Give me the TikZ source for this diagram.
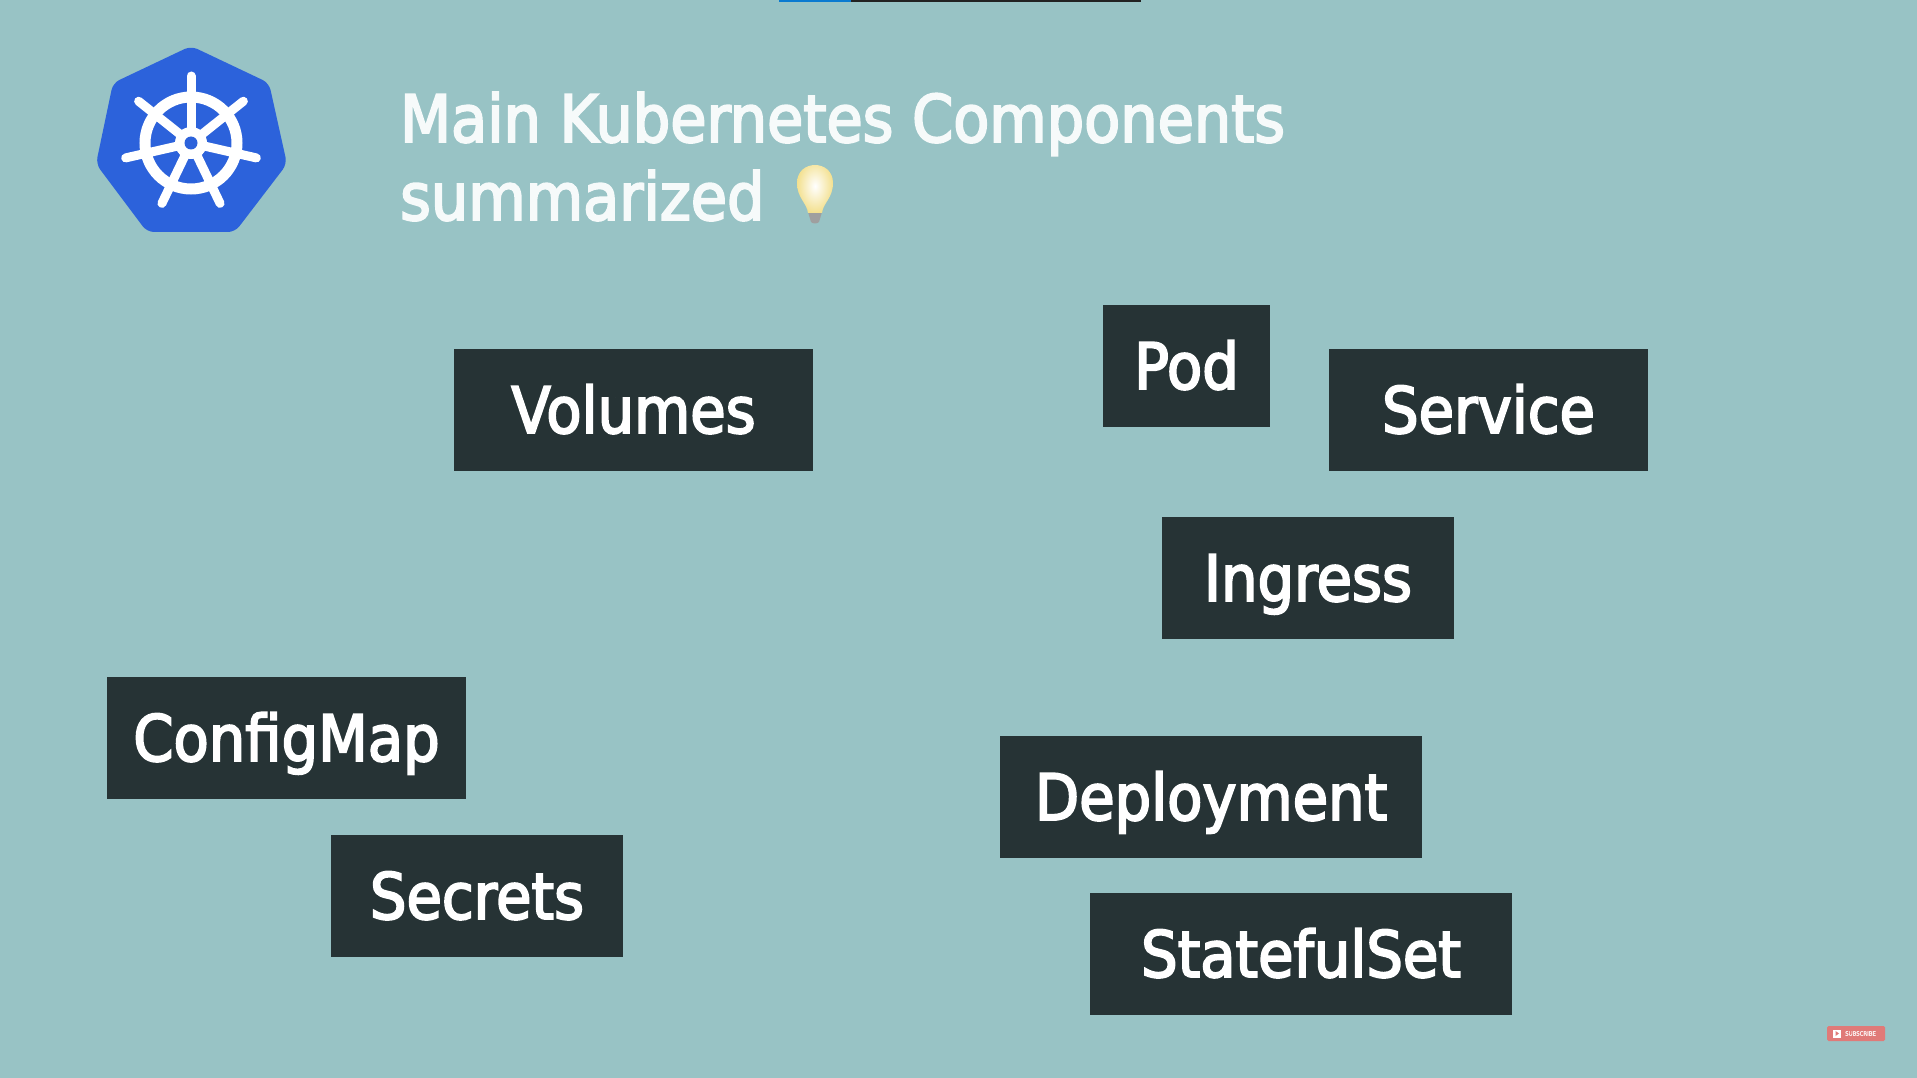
\documentclass[tikz,border=0pt]{standalone}
\usepackage{fontspec}
\setmainfont{DejaVu Sans}[FakeStretch=0.9, FakeBold=3]
\definecolor{bgteal}{HTML}{98C3C5}
\definecolor{boxdark}{HTML}{263335}
\definecolor{kubeblue}{HTML}{2C62DB}
\definecolor{barblue}{HTML}{0A7AD0}
\definecolor{bardark}{HTML}{222222}
\definecolor{subred}{HTML}{E07A78}
\definecolor{titlewhite}{HTML}{F6FAFA}
\definecolor{bulbedge}{HTML}{F3E08E}
\tikzset{
  compbox/.style={fill=boxdark, text=white, inner sep=0pt, text height=84pt, text depth=38pt,
    font=\fontsize{64}{64}\selectfont},
  titleline/.style={anchor=base west, inner sep=0pt, text=titlewhite,
    font=\fontsize{65.5}{66}\selectfont},
  spoke/.style={white, line cap=round}}

\begin{document}
\begin{tikzpicture}[x=1pt, y=-1pt]
\useasboundingbox (0,0) rectangle (1917,1078);
\fill [bgteal] (0,0) rectangle (1917,1078);
% progress bar
\fill [bardark] (779,0) rectangle (1141,2);
\fill [barblue] (779,0) rectangle (851,2);
% logo
\fill [kubeblue, rounded corners=7pt] (191,46) -- (269,83) -- (287,164) -- (235,232)
  -- (147,232) -- (96,164) -- (113,83) -- cycle;
\coordinate (hub) at (191,143);
\draw [white, line width=11pt] (hub) circle (46);
\foreach \a in {0,...,6} {
  \draw [spoke, line width=9pt] (hub) -- ++({270+\a*360/7}:50);
  \draw [spoke, line width=9pt] ([shift={({270+\a*360/7}:50)}]hub) -- ([shift={({270+\a*360/7}:67)}]hub);
}
\fill [white] (hub) circle (16);
\fill [kubeblue] (hub) circle (6.5);
% title
\node [titleline] (title1) at (400,142) {Main Kubernetes Components};
\node [titleline] (title2) at (400,220) {summarized};
% bulb
\fill [gray!75] (808,212) -- (822,212) -- (819,222) .. controls (817,224) and (813,224) .. (811,222) -- cycle;
\shade [inner color=white, outer color=bulbedge]
  (808,213) .. controls (807,203) and (797,198) .. (797,183)
  .. controls (797,159) and (833,159) .. (833,183)
  .. controls (833,198) and (823,203) .. (822,213) -- cycle;
% components
\node [compbox, minimum width=359pt] (volumes) at (633.5,410) {Volumes};
\node [compbox, minimum width=167pt] (pod) at (1186.5,366) {Pod};
\node [compbox, minimum width=319pt] (service) at (1488.5,410) {Service};
\node [compbox, minimum width=292pt] (ingress) at (1308,578) {Ingress};
\node [compbox, minimum width=359pt] (configmap) at (286.5,738) {ConfigMap};
\node [compbox, minimum width=292pt] (secrets) at (477,896) {Secrets};
\node [compbox, minimum width=422pt] (deployment) at (1211,797) {Deployment};
\node [compbox, minimum width=422pt] (statefulset) at (1301,954) {StatefulSet};
% subscribe badge
\fill [subred, rounded corners=1.5pt] (1827,1026) rectangle (1885,1041);
\fill [white] (1833,1029.5) rectangle (1841,1037.5);
\fill [subred] (1835.5,1031) -- (1839,1033.5) -- (1835.5,1036) -- cycle;
\node [anchor=west, inner sep=0pt, text=white!85!subred, font=\fontsize{6}{6}\selectfont] (subscribe) at (1845,1033.5) {SUBSCRIBE};
\end{tikzpicture}
\end{document}
